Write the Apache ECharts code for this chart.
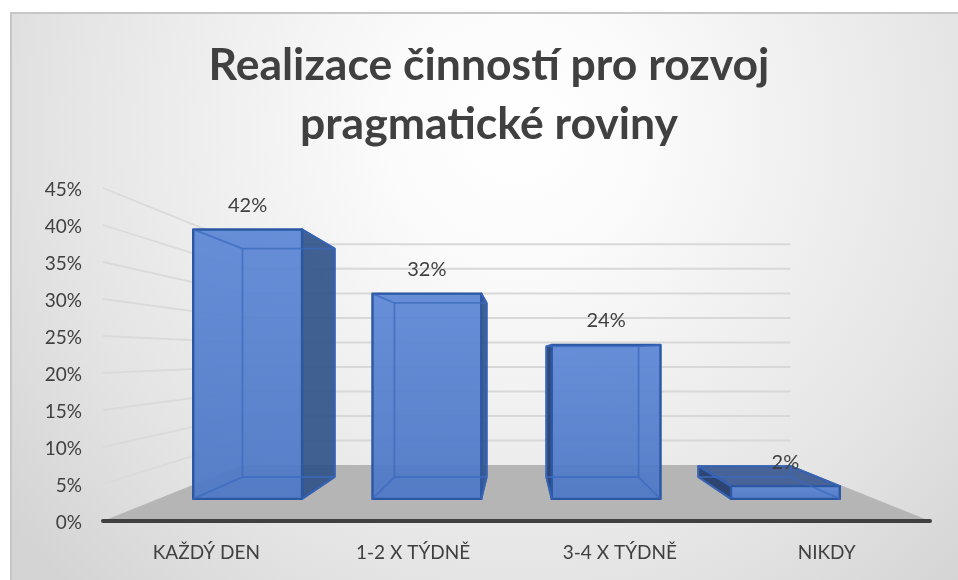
<!DOCTYPE html>
<html>
<head>
<meta charset="utf-8">
<style>html,body{margin:0;padding:0;background:#fff}#c{width:958px;height:580px}</style>
<script src="https://cdn.jsdelivr.net/npm/echarts@6/dist/echarts.min.js"></script>
</head>
<body>
<div id="c"></div>
<script>
var titleText = 'Realizace činností pro rozvoj\npragmatické roviny';
var categories = ['KAŽDÝ DEN', '1-2 X TÝDNĚ', '3-4 X TÝDNĚ', 'NIKDY'];
var values = [42, 32, 24, 2];
var valueLabels = ['42%', '32%', '24%', '2%'];
var wallTicks = [5, 10, 15, 20, 25, 30, 35, 40, 45];

// perspective set-up of the 3-D look
var VY = 355, K_BACK = 0.6626, K_BAR_FRONT = 0.867, K_BAR_BACK = 0.735, BAR_RATIO = 0.607;
function proj(p, k, vx) { return [vx + (p[0] - vx) * k, VY + (p[1] - VY) * k]; }

var chart = echarts.init(document.getElementById('c'), null, {renderer: 'canvas'});

function wallItem(params, api) {
  var cs = params.coordSys, vx = cs.x + cs.width / 2;
  var v = api.value(0);
  var y = api.coord([0, v])[1];
  var a = [cs.x, y], b = proj(a, K_BACK, vx), c = proj([cs.x + cs.width, y], K_BACK, vx);
  return {type: 'group', children: [
    {type: 'polyline', shape: {points: [a, b]}, style: {stroke: '#dadada', lineWidth: 1.8, fill: null}},
    {type: 'polyline', shape: {points: [b, c]}, style: {stroke: '#d8d8d8', lineWidth: 2, fill: null}}
  ]};
}

function floorItem(params, api) {
  var cs = params.coordSys, vx = cs.x + cs.width / 2;
  var y0 = api.coord([0, 0])[1];
  var l = [cs.x, y0], r = [cs.x + cs.width, y0];
  return {type: 'polygon', shape: {points: [l, proj(l, K_BACK, vx), proj(r, K_BACK, vx), r]},
    style: {fill: '#b5b5b5'}};
}

function barItem(params, api) {
  var cs = params.coordSys, vx = cs.x + cs.width / 2;
  var i = api.value(0), v = api.value(1), txt = valueLabels[params.dataIndex];
  var band = api.size([1, 0])[0], w = band * BAR_RATIO;
  var cx = api.coord([i, 0])[0], y0 = api.coord([i, 0])[1], yt = api.coord([i, v])[1];
  var P = function (x, y, k) { return proj([x, y], k, vx); };
  var xl = cx - w / 2, xr = cx + w / 2;
  var ftl = P(xl, yt, K_BAR_FRONT), ftr = P(xr, yt, K_BAR_FRONT), fbr = P(xr, y0, K_BAR_FRONT), fbl = P(xl, y0, K_BAR_FRONT);
  var btl = P(xl, yt, K_BAR_BACK), btr = P(xr, yt, K_BAR_BACK), bbr = P(xr, y0, K_BAR_BACK), bbl = P(xl, y0, K_BAR_BACK);
  var edge = '#2b57a3', inner = 'rgba(60,105,190,0.72)';
  var kids = [];
  function poly(pts, fill, stroke, lw) {
    kids.push({type: 'polygon', shape: {points: pts}, style: {fill: fill, stroke: stroke, lineWidth: lw, lineJoin: 'round'}});
  }
  function line(a, b, stroke, lw) {
    kids.push({type: 'polyline', shape: {points: [a, b]}, style: {stroke: stroke, lineWidth: lw, fill: null}});
  }
  // exterior side faces
  if (btr[0] > ftr[0]) poly([ftr, btr, bbr, fbr], 'rgba(50,84,138,0.92)', edge, 2);
  if (btl[0] < ftl[0]) poly([ftl, btl, bbl, fbl], 'rgba(38,62,108,0.94)', edge, 2);
  if (btl[1] < ftl[1]) poly([ftl, btl, btr, ftr], 'rgba(62,92,150,0.93)', edge, 2);
  // front face
  poly([ftl, ftr, fbr, fbl], new echarts.graphic.LinearGradient(0, 0, 0, 1, [
    {offset: 0, color: 'rgba(94,136,214,0.94)'},
    {offset: 1, color: 'rgba(78,120,198,0.94)'}
  ]), edge, 2.4);
  // inner edges of the box
  var lw = 1.8;
  line(btl, btr, inner, lw); line(btr, bbr, inner, lw); line(bbr, bbl, inner, lw); line(bbl, btl, inner, lw);
  line(ftl, btl, inner, lw); line(ftr, btr, inner, lw); line(fbr, bbr, inner, lw); line(fbl, bbl, inner, lw);
  // value label
  kids.push({type: 'text', z2: 100, style: {
    x: (ftl[0] + ftr[0]) / 2, y: ftl[1] - 24, text: txt, fill: '#404040',
    font: '20px Lato', align: 'center', verticalAlign: 'middle'
  }});
  return {type: 'group', children: kids};
}

chart.setOption({
  animation: false,
  graphic: {elements: [{
    type: 'rect', z: -10, silent: true,
    shape: {x: 11, y: 13, width: 960, height: 580},
    style: {
      fill: new echarts.graphic.RadialGradient(515, 130, 640, [
        {offset: 0, color: '#ffffff'},
        {offset: 0.2, color: '#fbfbfb'},
        {offset: 0.72, color: '#e4e4e4'},
        {offset: 1, color: '#d4d4d4'}
      ], true),
      stroke: '#c6c6c6', lineWidth: 2
    }
  }]},
  title: {
    text: titleText, left: 484, top: 31, textAlign: 'center',
    textStyle: {fontFamily: 'Lato', fontWeight: 'bold', fontSize: 44.5, lineHeight: 59, color: '#404040'}
  },
  grid: {left: 103, top: 188, width: 827, height: 333, containLabel: false},
  xAxis: {
    type: 'category', data: categories, z: 6,
    axisLine: {show: true, lineStyle: {color: '#404040', width: 4, cap: 'round'}},
    axisTick: {show: false},
    axisLabel: {fontFamily: 'Lato', fontSize: 19, color: '#404040', margin: 22}
  },
  yAxis: {
    type: 'value', min: 0, max: 45, interval: 5,
    axisLine: {show: false}, axisTick: {show: false}, splitLine: {show: false},
    axisLabel: {
      formatter: '{a|{value}%}', margin: 21,
      rich: {a: {fontFamily: 'Lato', fontSize: 19, color: '#404040', padding: [4, 0, 0, 0]}}
    }
  },
  series: [
    {type: 'custom', z: 1, clip: false, silent: true, coordinateSystem: 'cartesian2d',
     renderItem: floorItem, encode: {x: 0, y: 1}, data: [[0, 0]]},
    {type: 'custom', z: 2, clip: false, silent: true, coordinateSystem: 'cartesian2d',
     renderItem: wallItem, encode: {y: 0}, data: wallTicks.map(function (t) { return [t]; })},
    {type: 'custom', z: 3, clip: false, silent: true, coordinateSystem: 'cartesian2d',
     renderItem: barItem, encode: {x: 0, y: 1},
     data: values.map(function (v, i) { return [i, v]; })}
  ]
});
</script>
</body>
</html>
